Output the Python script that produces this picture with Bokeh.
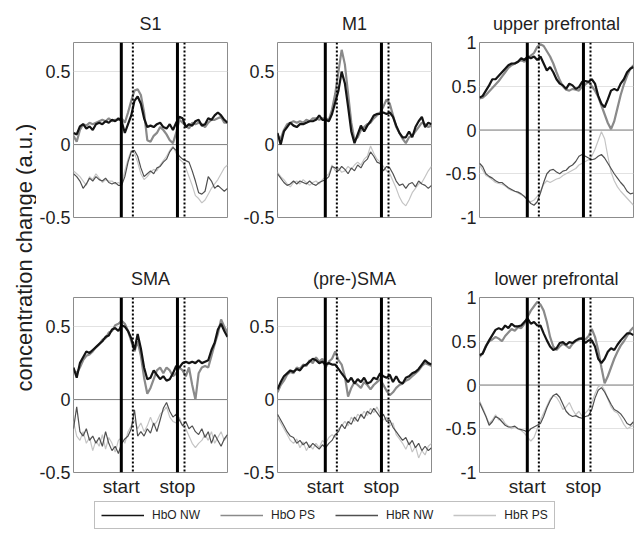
import math
from bokeh.plotting import figure
from bokeh.layouts import row, column
from bokeh.models import Range1d, FixedTicker, Span, Label, Legend, LegendItem
from bokeh.embed import file_html
from bokeh.resources import INLINE

# ---------------- data ----------------
samples = list(range(49))
events = [14.9, 18.5, 32.4, 34.6]          # start, start (dotted), stop, stop (dotted)
event_labels = ["start", "stop"]
series_names = ["HbO NW", "HbO PS", "HbR NW", "HbR PS"]
titles = ["S1", "M1", "upper prefrontal", "SMA", "(pre-)SMA", "lower prefrontal"]
ylabel = "concentration change (a.u.)"
motor_ticks = [-0.5, 0, 0.5]
motor_tick_labels = ["-0.5", "0", "0.5"]
pf_ticks = [-1, -0.5, 0, 0.5, 1]
pf_tick_labels = ["-1", "-0.5", "0", "0.5", "1"]

s1_hbo_nw = [0.08, 0.07, 0.125, 0.14, 0.11, 0.125, 0.10, 0.14, 0.15, 0.14, 0.16, 0.15, 0.17, 0.16, 0.18, 0.16,
             0.08, 0.14, 0.20, 0.30, 0.33, 0.28, 0.18, 0.12, 0.13, 0.12, 0.14, 0.15, 0.12, 0.11, 0.14, 0.10,
             0.15, 0.19, 0.18, 0.12, 0.14, 0.13, 0.16, 0.17, 0.13, 0.14, 0.18, 0.17, 0.20, 0.22, 0.20, 0.17, 0.15]
s1_hbo_ps = [0.06, 0.02, 0.10, 0.14, 0.13, 0.15, 0.14, 0.15, 0.16, 0.17, 0.16, 0.18, 0.16, 0.17, 0.17, 0.18,
             0.15, 0.22, 0.30, 0.37, 0.38, 0.34, 0.22, 0.03, 0.02, 0.06, 0.08, 0.12, 0.10, 0.07, 0.03, 0.01,
             0.08, 0.17, 0.15, 0.13, 0.11, 0.15, 0.14, 0.15, 0.14, 0.12, 0.15, 0.17, 0.17, 0.18, 0.19, 0.15, 0.15]
s1_hbr_nw = [-0.20, -0.22, -0.25, -0.30, -0.27, -0.23, -0.25, -0.22, -0.24, -0.25, -0.23, -0.26, -0.27, -0.26, -0.28, -0.28,
             -0.22, -0.12, -0.05, -0.04, -0.08, -0.16, -0.22, -0.20, -0.18, -0.20, -0.16, -0.15, -0.12, -0.10, -0.05, -0.02,
             -0.04, -0.08, -0.10, -0.11, -0.12, -0.18, -0.25, -0.33, -0.34, -0.32, -0.22, -0.25, -0.30, -0.28, -0.30, -0.32, -0.30]
s1_hbr_ps = [-0.18, -0.20, -0.22, -0.25, -0.28, -0.22, -0.24, -0.20, -0.23, -0.26, -0.24, -0.25, -0.25, -0.27, -0.26, -0.27,
             -0.18, -0.10, -0.04, -0.06, -0.12, -0.20, -0.24, -0.22, -0.19, -0.17, -0.18, -0.14, -0.11, -0.08, -0.04, -0.01,
             -0.06, -0.10, -0.12, -0.16, -0.22, -0.28, -0.35, -0.37, -0.40, -0.38, -0.34, -0.30, -0.27, -0.24, -0.20, -0.16, -0.14]

m1_hbo_nw = [0.08, 0.00, 0.09, 0.12, 0.15, 0.13, 0.12, 0.14, 0.14, 0.15, 0.16, 0.16, 0.17, 0.20, 0.17, 0.17,
             0.16, 0.21, 0.29, 0.37, 0.50, 0.42, 0.26, 0.09, 0.01, 0.07, 0.13, 0.09, 0.13, 0.16, 0.20, 0.21,
             0.21, 0.22, 0.21, 0.22, 0.19, 0.13, 0.08, 0.05, 0.05, 0.09, 0.05, 0.12, 0.16, 0.19, 0.12, 0.15, 0.14]
m1_hbo_ps = [0.06, 0.04, 0.10, 0.14, 0.15, 0.16, 0.15, 0.16, 0.15, 0.17, 0.16, 0.18, 0.18, 0.17, 0.18, 0.18,
             0.17, 0.24, 0.35, 0.50, 0.65, 0.55, 0.35, 0.15, 0.03, 0.05, 0.10, 0.12, 0.14, 0.15, 0.18, 0.20,
             0.22, 0.26, 0.31, 0.28, 0.20, 0.12, 0.08, 0.04, 0.01, 0.05, 0.06, 0.09, 0.12, 0.15, 0.14, 0.12, 0.13]
m1_hbr_nw = [-0.20, -0.23, -0.26, -0.28, -0.27, -0.25, -0.27, -0.25, -0.26, -0.27, -0.25, -0.27, -0.28, -0.26, -0.25, -0.24,
             -0.22, -0.15, -0.16, -0.18, -0.15, -0.17, -0.20, -0.16, -0.18, -0.14, -0.16, -0.12, -0.10, -0.05, -0.08, -0.12,
             -0.13, -0.18, -0.15, -0.16, -0.20, -0.25, -0.28, -0.27, -0.30, -0.27, -0.26, -0.29, -0.25, -0.27, -0.28, -0.30, -0.28]
m1_hbr_ps = [-0.19, -0.22, -0.24, -0.27, -0.29, -0.26, -0.25, -0.27, -0.24, -0.26, -0.28, -0.26, -0.25, -0.27, -0.24, -0.22,
             -0.20, -0.14, -0.18, -0.16, -0.19, -0.18, -0.15, -0.17, -0.14, -0.12, -0.14, -0.10, -0.08, -0.01, -0.06, -0.10,
             -0.12, -0.15, -0.18, -0.20, -0.25, -0.30, -0.36, -0.40, -0.42, -0.38, -0.33, -0.30, -0.27, -0.26, -0.22, -0.18, -0.15]

up_hbo_nw = [0.37, 0.39, 0.45, 0.51, 0.58, 0.58, 0.62, 0.66, 0.70, 0.74, 0.76, 0.76, 0.78, 0.82, 0.80, 0.84,
             0.82, 0.84, 0.80, 0.84, 0.76, 0.68, 0.72, 0.66, 0.58, 0.53, 0.51, 0.47, 0.53, 0.51, 0.47, 0.49,
             0.55, 0.56, 0.55, 0.58, 0.53, 0.39, 0.30, 0.26, 0.35, 0.45, 0.47, 0.45, 0.53, 0.58, 0.66, 0.70, 0.72]
up_hbo_ps = [0.36, 0.37, 0.40, 0.44, 0.48, 0.52, 0.56, 0.61, 0.66, 0.71, 0.74, 0.76, 0.78, 0.80, 0.78, 0.82,
             0.85, 0.88, 0.95, 0.98, 0.96, 0.90, 0.84, 0.76, 0.66, 0.57, 0.50, 0.46, 0.45, 0.47, 0.46, 0.45,
             0.50, 0.52, 0.55, 0.50, 0.45, 0.38, 0.28, 0.18, 0.08, 0.01, 0.10, 0.25, 0.40, 0.52, 0.62, 0.70, 0.74]
up_hbr_nw = [-0.38, -0.42, -0.50, -0.53, -0.55, -0.58, -0.60, -0.60, -0.63, -0.66, -0.68, -0.70, -0.71, -0.73, -0.76, -0.80,
             -0.84, -0.86, -0.82, -0.72, -0.60, -0.50, -0.46, -0.45, -0.48, -0.50, -0.47, -0.46, -0.42, -0.40, -0.36, -0.30,
             -0.28, -0.30, -0.32, -0.34, -0.33, -0.30, -0.28, -0.32, -0.38, -0.44, -0.50, -0.55, -0.60, -0.64, -0.70, -0.73, -0.72]
up_hbr_ps = [-0.40, -0.46, -0.52, -0.54, -0.57, -0.60, -0.61, -0.62, -0.64, -0.67, -0.69, -0.70, -0.72, -0.74, -0.76, -0.80,
             -0.82, -0.80, -0.76, -0.70, -0.62, -0.58, -0.60, -0.58, -0.56, -0.55, -0.52, -0.50, -0.48, -0.46, -0.44, -0.40,
             -0.38, -0.36, -0.34, -0.30, -0.22, -0.12, -0.02, -0.10, -0.30, -0.48, -0.58, -0.65, -0.70, -0.74, -0.78, -0.82, -0.86]

sma_hbo_nw = [0.22, 0.15, 0.25, 0.29, 0.33, 0.32, 0.34, 0.36, 0.38, 0.40, 0.43, 0.44, 0.48, 0.49, 0.47, 0.51,
              0.50, 0.47, 0.42, 0.34, 0.45, 0.35, 0.22, 0.14, 0.15, 0.20, 0.17, 0.14, 0.16, 0.13, 0.14, 0.18,
              0.23, 0.22, 0.25, 0.26, 0.25, 0.26, 0.25, 0.27, 0.25, 0.26, 0.27, 0.34, 0.39, 0.48, 0.52, 0.47, 0.43]
sma_hbo_ps = [0.20, 0.18, 0.22, 0.27, 0.30, 0.31, 0.33, 0.36, 0.38, 0.41, 0.42, 0.46, 0.47, 0.51, 0.52, 0.54,
              0.52, 0.47, 0.40, 0.33, 0.40, 0.30, 0.15, 0.04, 0.08, 0.14, 0.20, 0.22, 0.18, 0.22, 0.20, 0.16,
              0.18, 0.22, 0.20, 0.16, 0.22, 0.10, 0.00, 0.18, 0.22, 0.23, 0.22, 0.30, 0.38, 0.45, 0.55, 0.50, 0.46]
sma_hbr_nw = [-0.20, -0.05, -0.22, -0.25, -0.20, -0.28, -0.25, -0.30, -0.26, -0.32, -0.22, -0.30, -0.35, -0.32, -0.37, -0.30,
              -0.27, -0.25, -0.20, -0.07, -0.25, -0.22, -0.25, -0.20, -0.23, -0.16, -0.22, -0.14, -0.06, -0.02, -0.08, -0.12,
              -0.10, -0.14, -0.18, -0.15, -0.20, -0.18, -0.22, -0.24, -0.20, -0.26, -0.22, -0.30, -0.24, -0.28, -0.32, -0.27, -0.24]
sma_hbr_ps = [-0.15, -0.25, -0.28, -0.22, -0.30, -0.26, -0.35, -0.28, -0.32, -0.24, -0.34, -0.26, -0.30, -0.36, -0.28, -0.26,
              -0.30, -0.22, -0.18, -0.14, -0.20, -0.16, -0.22, -0.18, -0.12, -0.18, -0.15, -0.10, -0.08, -0.05, -0.12, -0.15,
              -0.16, -0.12, -0.18, -0.20, -0.25, -0.30, -0.33, -0.30, -0.28, -0.24, -0.28, -0.22, -0.30, -0.26, -0.22, -0.28, -0.25]

psma_hbo_nw = [0.07, 0.12, 0.16, 0.18, 0.20, 0.19, 0.21, 0.20, 0.23, 0.24, 0.26, 0.28, 0.27, 0.25, 0.26, 0.24,
               0.25, 0.24, 0.24, 0.21, 0.18, 0.15, 0.12, 0.15, 0.11, 0.14, 0.12, 0.15, 0.11, 0.12, 0.15, 0.14,
               0.18, 0.16, 0.15, 0.17, 0.12, 0.16, 0.12, 0.11, 0.15, 0.16, 0.18, 0.19, 0.21, 0.24, 0.27, 0.25, 0.24]
psma_hbo_ps = [0.05, 0.10, 0.13, 0.17, 0.19, 0.18, 0.22, 0.21, 0.24, 0.23, 0.27, 0.25, 0.29, 0.26, 0.28, 0.22,
               0.26, 0.28, 0.33, 0.27, 0.24, 0.16, 0.02, 0.08, 0.12, 0.10, 0.08, 0.12, 0.10, 0.07, 0.10, 0.12,
               0.14, 0.10, 0.06, 0.03, 0.05, 0.08, 0.10, 0.11, 0.13, 0.14, 0.16, 0.18, 0.20, 0.23, 0.25, 0.24, 0.23]
psma_hbr_nw = [-0.10, -0.14, -0.18, -0.22, -0.25, -0.26, -0.30, -0.28, -0.31, -0.29, -0.33, -0.30, -0.32, -0.34, -0.31, -0.33,
               -0.30, -0.28, -0.24, -0.22, -0.17, -0.20, -0.15, -0.17, -0.12, -0.15, -0.10, -0.13, -0.08, -0.10, -0.06, -0.09,
               -0.12, -0.10, -0.15, -0.14, -0.19, -0.22, -0.25, -0.28, -0.26, -0.31, -0.28, -0.33, -0.30, -0.35, -0.32, -0.35, -0.33]
psma_hbr_ps = [-0.12, -0.16, -0.20, -0.24, -0.28, -0.30, -0.27, -0.33, -0.29, -0.35, -0.31, -0.34, -0.30, -0.33, -0.28, -0.30,
               -0.26, -0.24, -0.26, -0.20, -0.18, -0.15, -0.18, -0.12, -0.15, -0.10, -0.12, -0.08, -0.11, -0.06, -0.09, -0.05,
               -0.10, -0.14, -0.12, -0.18, -0.16, -0.24, -0.27, -0.30, -0.34, -0.29, -0.36, -0.32, -0.40, -0.35, -0.38, -0.32, -0.30]

lp_hbo_nw = [0.34, 0.36, 0.44, 0.51, 0.57, 0.63, 0.65, 0.63, 0.68, 0.65, 0.70, 0.67, 0.67, 0.68, 0.72, 0.76,
             0.70, 0.72, 0.68, 0.68, 0.59, 0.51, 0.44, 0.40, 0.42, 0.48, 0.49, 0.46, 0.49, 0.48, 0.51, 0.53,
             0.53, 0.48, 0.51, 0.51, 0.44, 0.30, 0.25, 0.30, 0.38, 0.42, 0.40, 0.46, 0.51, 0.55, 0.59, 0.59, 0.57]
lp_hbo_ps = [0.32, 0.36, 0.45, 0.50, 0.52, 0.55, 0.53, 0.50, 0.56, 0.60, 0.64, 0.62, 0.66, 0.65, 0.70, 0.78,
             0.85, 0.90, 0.95, 0.92, 0.85, 0.72, 0.55, 0.44, 0.40, 0.44, 0.47, 0.45, 0.42, 0.47, 0.50, 0.52,
             0.54, 0.52, 0.56, 0.64, 0.55, 0.40, 0.20, 0.02, 0.10, 0.20, 0.30, 0.38, 0.45, 0.50, 0.56, 0.62, 0.66]
lp_hbr_nw = [-0.20, -0.28, -0.36, -0.46, -0.42, -0.36, -0.38, -0.42, -0.46, -0.48, -0.48, -0.47, -0.50, -0.51, -0.52, -0.54,
             -0.50, -0.48, -0.46, -0.44, -0.36, -0.26, -0.18, -0.12, -0.10, -0.14, -0.22, -0.30, -0.34, -0.36, -0.35, -0.37,
             -0.38, -0.36, -0.35, -0.28, -0.15, -0.06, -0.03, -0.08, -0.15, -0.22, -0.28, -0.30, -0.33, -0.38, -0.44, -0.46, -0.42]
lp_hbr_ps = [-0.18, -0.26, -0.35, -0.44, -0.40, -0.34, -0.40, -0.38, -0.44, -0.47, -0.50, -0.48, -0.50, -0.52, -0.55, -0.60,
             -0.64, -0.60, -0.50, -0.40, -0.32, -0.24, -0.16, -0.12, -0.14, -0.20, -0.28, -0.25, -0.20, -0.28, -0.34, -0.30,
             -0.36, -0.32, -0.28, -0.20, -0.10, -0.02, 0.00, -0.06, -0.16, -0.25, -0.30, -0.32, -0.38, -0.45, -0.50, -0.48, -0.46]

# ---------------- styles ----------------
FONT = "Liberation Sans"
TXT = "#1f1f1f"
line_styles = {
    "HbO NW": dict(color="#141414", width=2.2),
    "HbO PS": dict(color="#8a8a8a", width=2.2),
    "HbR NW": dict(color="#505050", width=1.2),
    "HbR PS": dict(color="#c4c4c4", width=1.2),
}
draw_order = ["HbR PS", "HbR NW", "HbO PS", "HbO NW"]

panels = [
    (titles[0], [s1_hbo_nw, s1_hbo_ps, s1_hbr_nw, s1_hbr_ps], (-0.5, 0.7), motor_ticks, motor_tick_labels),
    (titles[1], [m1_hbo_nw, m1_hbo_ps, m1_hbr_nw, m1_hbr_ps], (-0.5, 0.7), motor_ticks, motor_tick_labels),
    (titles[2], [up_hbo_nw, up_hbo_ps, up_hbr_nw, up_hbr_ps], (-1, 1), pf_ticks, pf_tick_labels),
    (titles[3], [sma_hbo_nw, sma_hbo_ps, sma_hbr_nw, sma_hbr_ps], (-0.5, 0.7), motor_ticks, motor_tick_labels),
    (titles[4], [psma_hbo_nw, psma_hbo_ps, psma_hbr_nw, psma_hbr_ps], (-0.5, 0.7), motor_ticks, motor_tick_labels),
    (titles[5], [lp_hbo_nw, lp_hbo_ps, lp_hbr_nw, lp_hbr_ps], (-1, 1), pf_ticks, pf_tick_labels),
]
border_lefts = [34, 47, 45]


def make_panel(idx):
    title, data, yr, ticks, tick_labels = panels[idx]
    top_row = idx < 3
    p = figure(title=title, frame_width=154, frame_height=175,
               x_range=Range1d(samples[0], samples[-1]), y_range=Range1d(*yr),
               output_backend="svg", toolbar_location=None,
               min_border_left=border_lefts[idx % 3], min_border_right=3,
               min_border_top=42 if top_row else 56, min_border_bottom=24)
    p.title.text_font = FONT
    p.title.text_font_size = "18px"
    p.title.text_font_style = "normal"
    p.title.text_color = TXT
    p.title.align = "center"
    p.title.standoff = 17
    p.outline_line_color = "#8c8c8c"
    p.outline_line_width = 1

    p.yaxis.ticker = FixedTicker(ticks=ticks)
    p.yaxis.major_label_overrides = {t: l for t, l in zip(ticks, tick_labels)}
    p.yaxis.axis_line_color = None
    p.yaxis.major_tick_line_color = None
    p.yaxis.minor_tick_line_color = None
    p.yaxis.major_tick_out = 0
    p.yaxis.major_tick_in = 0
    p.yaxis.major_label_standoff = 3
    p.yaxis.major_label_text_font = FONT
    p.yaxis.major_label_text_font_size = "18px"
    p.yaxis.major_label_text_color = TXT

    xt = [events[0], events[2]]
    p.xaxis.ticker = FixedTicker(ticks=xt)
    p.xaxis.major_label_overrides = {t: l for t, l in zip(xt, event_labels)}
    p.xaxis.axis_line_color = None
    p.xaxis.major_tick_line_color = None
    p.xaxis.minor_tick_line_color = None
    p.xaxis.major_tick_out = 0
    p.xaxis.major_tick_in = 0
    p.xaxis.major_label_standoff = 3
    p.xaxis.major_label_text_font = FONT
    p.xaxis.major_label_text_font_size = "19px"
    p.xaxis.major_label_text_color = TXT
    if top_row:
        p.xaxis.visible = False

    p.xgrid.visible = False
    p.ygrid.ticker = FixedTicker(ticks=ticks)
    p.ygrid.grid_line_color = "#e2e2e2"
    p.ygrid.grid_line_width = 1

    p.add_layout(Span(location=0, dimension="width", line_color="#808080", line_width=1, level="underlay"))

    series = dict(zip(series_names, data))
    for name in draw_order:
        st = line_styles[name]
        p.line(samples, series[name], line_color=st["color"], line_width=st["width"])

    for k, e in enumerate(events):
        if k % 2 == 0:
            p.add_layout(Span(location=e, dimension="height", line_color="black", line_width=3))
        else:
            p.add_layout(Span(location=e, dimension="height", line_color="black", line_width=2,
                              line_dash="2 2"))
    return p


figs = [make_panel(i) for i in range(6)]

# y-axis label column
ylab = figure(width=36, height=496, x_axis_type=None, y_axis_type=None,
              output_backend="svg", toolbar_location=None, min_border=0,
              outline_line_color=None)
ylab.grid.visible = False
ylab.add_layout(Label(x=24, y=239, x_units="screen", y_units="screen", text=ylabel,
                      angle=math.pi / 2, text_align="center", text_baseline="middle",
                      text_font=FONT, text_font_size="22px", text_color=TXT))

# legend strip (placeholder renderers without visible marks)
nan = float("nan")
lf = figure(width=631, height=30, x_axis_type=None, y_axis_type=None,
            output_backend="svg", toolbar_location=None, min_border=0,
            outline_line_color=None, x_range=Range1d(0, 1), y_range=Range1d(0, 1))
lf.grid.visible = False
items = []
for name in series_names:
    st = line_styles[name]
    r = lf.line(x=[nan], y=[nan], line_color=st["color"], line_width=1.5)
    items.append(LegendItem(label=name, renderers=[r]))
leg = Legend(items=items, orientation="horizontal", location=(94, 0))
leg.label_text_font = FONT
leg.label_text_font_size = "12px"
leg.label_text_color = TXT
leg.glyph_width = 43
leg.glyph_height = 12
leg.label_height = 12
leg.label_standoff = 8
leg.spacing = 20
leg.padding = 6
leg.margin = 0
leg.border_line_color = "#7f7f7f"
leg.border_line_width = 1
leg.background_fill_color = "white"
leg.background_fill_alpha = 1
lf.add_layout(leg, "center")

layout = column(row(ylab, column(row(*figs[:3]), row(*figs[3:]))), lf)

open("out.html", "w").write(file_html(layout, INLINE))
